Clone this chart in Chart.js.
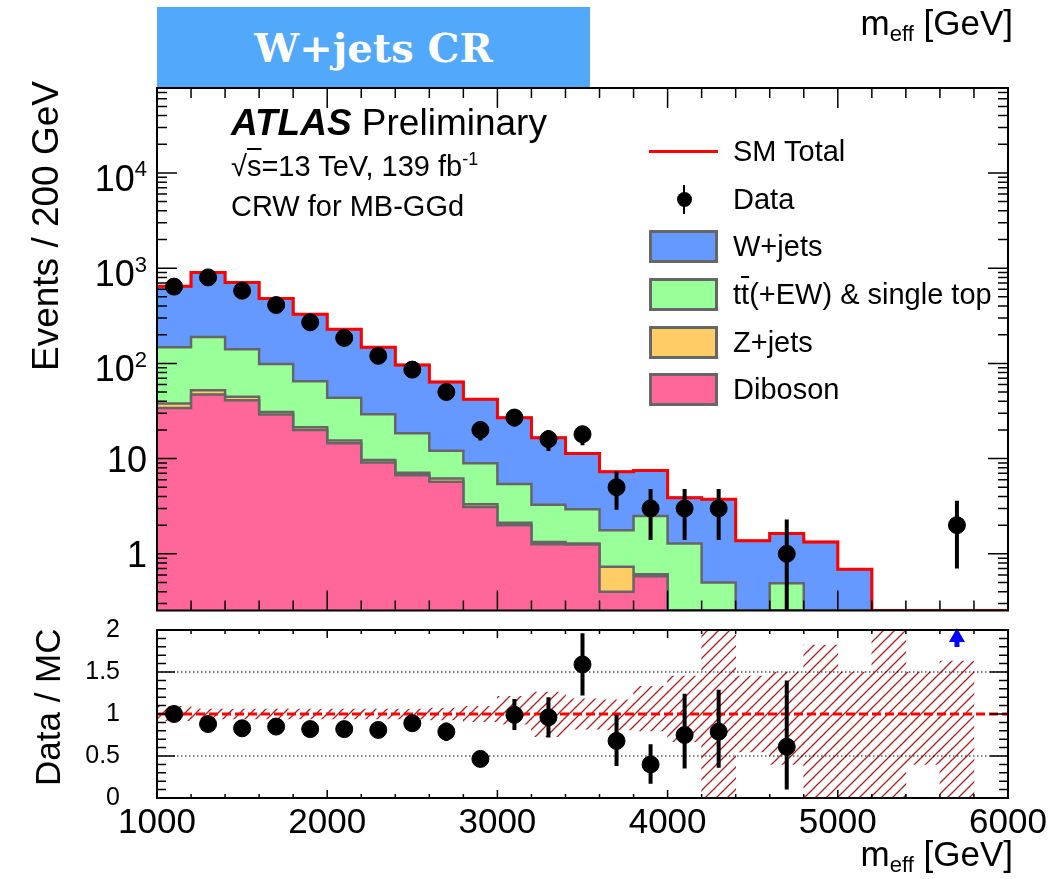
<!DOCTYPE html>
<html>
<head>
<meta charset="utf-8">
<script src="https://cdn.jsdelivr.net/npm/chart.js@4.4.1/dist/chart.umd.min.js"></script>
<style>
  html, body { margin: 0; padding: 0; background: #fff; }
  body { width: 1051px; height: 879px; position: relative; overflow: hidden;
         font-family: 'Liberation Sans', Arial, Helvetica, sans-serif; color: #000; }
  canvas { position: absolute; left: 0; }
  #main { top: 0; }
  #ratio { top: 590px; }
  .txt { position: absolute; white-space: nowrap; line-height: 1; z-index: 2; }
  .txt sub { font-size: 22px; vertical-align: -6px; line-height: 0; }
  .rot { transform-origin: 0 0; transform: rotate(-90deg); }
  #banner { position: absolute; left: 157px; top: 7px; width: 433px; height: 80px; background: #52a8fa;
            color: #fff; font-family: 'DejaVu Serif', serif; font-weight: bold; font-size: 40px;
            display: flex; align-items: center; justify-content: center; z-index: 2; }
  #legend { position: absolute; left: 649px; top: 128px; font-size: 29px; z-index: 2; }
  #legend .row { height: 47.6px; display: flex; align-items: center; }
  #legend .sym { width: 69px; height: 33px; position: relative; margin-right: 15px; box-sizing: border-box; }
  #legend .lab { line-height: 1; white-space: nowrap; }
</style>
</head>
<body>
<canvas id="main" width="1051" height="620"></canvas>
<canvas id="ratio" width="1051" height="289"></canvas>

<div id="banner">W+jets CR</div>
<div class="txt" style="right:38px; top:5px; font-size:35px">m<sub>eff</sub> [GeV]</div>
<div class="txt" style="right:38px; top:836px; font-size:35px">m<sub>eff</sub> [GeV]</div>
<div class="txt rot" style="left:27px; top:371px; font-size:37px">Events / 200 GeV</div>
<div class="txt rot" style="left:30px; top:786px; font-size:35px">Data / MC</div>
<div class="txt" style="left:231px; top:104px; font-size:37px"><b><i>ATLAS</i></b> Preliminary</div>
<div class="txt" style="left:231px; top:152px; font-size:29px">&radic;<span style="text-decoration:overline">s</span>=13 TeV, 139 fb<sup style="font-size:18px; vertical-align:11px; line-height:0">-1</sup></div>
<div class="txt" style="left:231px; top:192px; font-size:29px">CRW for MB-GGd</div>
<div id="legend"></div>

<script>
// bin edges of m_eff [GeV]
const binEdges = [1000, 1200, 1400, 1600, 1800, 2000, 2200, 2400, 2600, 2800, 3000, 3200, 3400,
  3600, 3800, 4000, 4200, 4400, 4600, 4800, 5000, 5200, 5400, 5600, 5800, 6000];

// background expectations per bin (events / 200 GeV)
const diboson = [34, 47, 41, 29, 20, 14.5, 9.1, 6.7, 5.7, 3.1, 2.0, 1.26, 1.25, 0.40, 0.58, 0, 0, 0, 0, 0, 0, 0, 0, 0, 0];
const zjets = [4.0, 5.3, 3.5, 1.9, 1.4, 1.0, 0.55, 0.4, 0.5, 0.22, 0.12, 0.07, 0.03, 0.33, 0.03, 0, 0, 0, 0, 0, 0, 0, 0, 0, 0];
const ttbar = [110, 137, 96, 67.5, 43.5, 28, 19.5, 11.4, 5.9, 5.6, 3.3, 1.94, 1.65, 1.04, 1.88, 1.28, 0.5, 0, 0.49, 0, 0, 0, 0, 0, 0];
const wjets = [499, 711, 567, 383, 263, 185, 119, 77.5, 51.5, 33, 21.5, 13.3, 8.4, 5.5, 5.0, 2.6, 3.25, 1.37, 1.14, 1.33, 0.69, 0, 0, 0, 0];

// observed data
const dataCounts = [640, 800, 580, 410, 270, 185, 120, 86, 50, 20, 27, 16, 18, 5, 3, 3, 3, 0, 1, 0, 0, 0, 0, 2, 0];
const dataErrUp = [25, 28, 24, 20, 16, 14, 11, 9.3, 7.1, 4.5, 5.2, 4, 4.2, 2.3, 1.8, 1.8, 1.8, 0, 1.3, 0, 0, 0, 0, 1.6, 0];
const dataErrDown = [25, 28, 24, 20, 16, 14, 11, 9.3, 7.1, 4.5, 5.2, 4, 4.2, 2.1, 1.6, 1.6, 1.6, 0, 1, 0, 0, 0, 0, 1.3, 0];

// ratio panel
const ratio = [1.0, 0.88, 0.83, 0.85, 0.82, 0.82, 0.81, 0.89, 0.79, 0.465, 0.99, 0.96, 1.59, 0.68, 0.40, 0.75, 0.79,
  null, 0.61, null, null, null, null, null, null];
const ratioErrUp = [0.04, 0.04, 0.04, 0.04, 0.04, 0.05, 0.05, 0.07, 0.11, 0.09, 0.19, 0.24, 0.37, 0.31, 0.24, 0.49, 0.5,
  0, 0.79, 0, 0, 0, 0, 0, 0];
const ratioErrDown = [0.04, 0.04, 0.04, 0.04, 0.04, 0.05, 0.05, 0.07, 0.11, 0.09, 0.18, 0.24, 0.37, 0.30, 0.23, 0.40, 0.43,
  0, 0.51, 0, 0, 0, 0, 0, 0];
const ratioOffScale = [5700];
const bandLow = [0.92, 0.94, 0.94, 0.94, 0.94, 0.94, 0.94, 0.94, 0.93, 0.91, 0.88, 0.73, 0.82, 0.81, 0.80, 0.67, 0,
  0.55, 0.40, 0, 0, 0, 0.40, 0, null];
const bandHigh = [1.09, 1.06, 1.06, 1.06, 1.06, 1.06, 1.06, 1.06, 1.07, 1.09, 1.21, 1.26, 1.18, 1.17, 1.33, 1.45, 2,
  1.45, 1.5, 1.82, 1.5, 2, 1.5, 1.63, null];

const yTickValues = [1, 10, 100, 1000, 10000];

const colWjets = '#6699ff', colTop = '#99ff99', colZ = '#ffcc66', colVV = '#ff6699', colLine = '#666666';
const fontFamily = "'Liberation Sans', Arial, Helvetica, sans-serif";
const yMin = 0.254, yMax = 78000;

Chart.defaults.font.family = fontFamily;
Chart.defaults.color = '#000';

const centers = binEdges.slice(0, -1).map((e, i) => (e + binEdges[i + 1]) / 2);

function cumulate(...parts) {
  return parts[0].map((_, i) => parts.reduce((s, p) => s + p[i], 0));
}
// empty bins sit on the bottom of the frame, like ROOT draws them
function steps(vals) {
  const pts = vals.map((v, i) => ({ x: binEdges[i], y: Math.max(v, yMin) }));
  pts.push({ x: binEdges[vals.length], y: Math.max(vals[vals.length - 1], yMin) });
  return pts;
}

const cumVV = cumulate(diboson);
const cumZ = cumulate(diboson, zjets);
const cumTop = cumulate(diboson, zjets, ttbar);
const cumAll = cumulate(diboson, zjets, ttbar, wjets);

// ROOT-like frame with inward ticks on all four sides
const rootAxes = {
  id: 'rootAxes',
  afterDraw(chart, args, o) {
    const { ctx, chartArea: a, scales: { x, y } } = chart;
    ctx.save();
    ctx.strokeStyle = '#000';
    ctx.lineWidth = 1.5;
    ctx.beginPath();
    const vt = (v, len) => {
      const p = x.getPixelForValue(v);
      ctx.moveTo(p, a.bottom); ctx.lineTo(p, a.bottom - len);
      ctx.moveTo(p, a.top); ctx.lineTo(p, a.top + len);
    };
    const ht = (v, len) => {
      const p = y.getPixelForValue(v);
      if (p < a.top - 0.5 || p > a.bottom + 0.5) return;
      ctx.moveTo(a.left, p); ctx.lineTo(a.left + len, p);
      ctx.moveTo(a.right, p); ctx.lineTo(a.right - len, p);
    };
    o.xMajor.forEach(v => vt(v, o.xMajorLen));
    o.xMinor.forEach(v => vt(v, o.xMinorLen));
    o.yMajor.forEach(v => ht(v, o.yMajorLen));
    o.yMinor.forEach(v => ht(v, o.yMinorLen));
    ctx.stroke();
    ctx.lineWidth = 2;
    ctx.strokeRect(a.left, a.top, a.right - a.left, a.bottom - a.top);
    ctx.restore();
  }
};

// log-axis labels written as 10 with a raised exponent
const logLabels = {
  id: 'logLabels',
  afterDraw(chart, args, o) {
    const { ctx, chartArea: a, scales: { y } } = chart;
    ctx.save();
    ctx.fillStyle = '#000';
    ctx.textAlign = 'right';
    ctx.textBaseline = 'alphabetic';
    const right = a.left - 10;
    o.values.forEach(v => {
      const p = y.getPixelForValue(v);
      const exp = Math.round(Math.log10(v));
      if (exp <= 1) {
        ctx.font = '36px ' + fontFamily;
        ctx.fillText(String(v), right, p + 13);
      } else {
        ctx.font = '22px ' + fontFamily;
        ctx.fillText(String(exp), right, p + 3.5);
        const w = ctx.measureText(String(exp)).width;
        ctx.font = '36px ' + fontFamily;
        ctx.fillText('10', right - w, p + 18);
      }
    });
    ctx.restore();
  }
};

// vertical error bars for datasets that carry errUp / errDown
const errorBars = {
  id: 'errorBars',
  afterDatasetsDraw(chart) {
    const { ctx, chartArea: a } = chart;
    chart.data.datasets.forEach((ds, i) => {
      if (!ds.errUp) return;
      const meta = chart.getDatasetMeta(i);
      const ys = chart.scales[meta.yAxisID];
      ctx.save();
      ctx.beginPath();
      ctx.rect(a.left, a.top, a.right - a.left, a.bottom - a.top);
      ctx.clip();
      ctx.strokeStyle = '#000';
      ctx.lineWidth = 4;
      ctx.beginPath();
      meta.data.forEach((pt, j) => {
        const v = ds.data[j].y;
        if (v == null) return;
        ctx.moveTo(pt.x, ys.getPixelForValue(v + ds.errUp[j]));
        ctx.lineTo(pt.x, ys.getPixelForValue(Math.max(v - ds.errDown[j], 0)));
      });
      ctx.stroke();
      ctx.restore();
    });
  }
};

// ratio points above the panel range
const offScale = {
  id: 'offScale',
  afterDatasetsDraw(chart, args, o) {
    const { ctx, chartArea: a, scales: { x } } = chart;
    ctx.save();
    ctx.fillStyle = '#0000ff';
    ctx.strokeStyle = '#0000ff';
    ctx.lineWidth = 5;
    o.xs.forEach(v => {
      const p = x.getPixelForValue(v);
      ctx.beginPath();
      ctx.moveTo(p, a.top - 2); ctx.lineTo(p - 8, a.top + 12); ctx.lineTo(p + 8, a.top + 12);
      ctx.closePath(); ctx.fill();
      ctx.beginPath(); ctx.moveTo(p, a.top + 10); ctx.lineTo(p, a.top + 17); ctx.stroke();
    });
    ctx.restore();
  }
};

const xMajor = [1000, 2000, 3000, 4000, 5000, 6000];
const xMinor = [];
for (let v = 1000; v <= 6000; v += 200) xMinor.push(v);
const logMajor = [0.1, 1, 10, 100, 1000, 10000];
const logMinor = [];
logMajor.forEach(d => { for (let k = 2; k <= 9; k++) logMinor.push(d * k); });

new Chart(document.getElementById('main'), {
  type: 'scatter',
  data: {
    datasets: [
      { type: 'scatter', data: centers.map((c, i) => ({ x: c, y: dataCounts[i] > 0 ? dataCounts[i] : null })),
        errUp: dataErrUp, errDown: dataErrDown,
        backgroundColor: '#000', borderColor: '#000', pointRadius: 8.5, pointHoverRadius: 8.5 },
      { type: 'line', label: 'SM Total', data: steps(cumAll), stepped: true, fill: false,
        borderColor: '#ff0000', borderWidth: 3, pointRadius: 0 },
      { type: 'line', label: 'Diboson', data: steps(cumVV), stepped: true, fill: 'start',
        backgroundColor: colVV, borderColor: colLine, borderWidth: 2.5, pointRadius: 0 },
      { type: 'line', label: 'Z+jets', data: steps(cumZ), stepped: true, fill: 'start',
        backgroundColor: colZ, borderColor: colLine, borderWidth: 2.5, pointRadius: 0 },
      { type: 'line', label: 'ttbar', data: steps(cumTop), stepped: true, fill: 'start',
        backgroundColor: colTop, borderColor: colLine, borderWidth: 2.5, pointRadius: 0 },
      { type: 'line', label: 'W+jets', data: steps(cumAll), stepped: true, fill: 'start',
        backgroundColor: colWjets, borderColor: colLine, borderWidth: 2.5, pointRadius: 0 }
    ]
  },
  options: {
    responsive: false,
    animation: false,
    layout: { padding: { top: 88, right: 43, bottom: 6, left: 0 } },
    plugins: {
      legend: { display: false },
      tooltip: { enabled: false },
      rootAxes: { xMajor, xMinor, xMajorLen: 20, xMinorLen: 10,
                  yMajor: logMajor, yMinor: logMinor, yMajorLen: 20, yMinorLen: 10 },
      logLabels: { values: yTickValues }
    },
    scales: {
      x: { type: 'linear', min: 1000, max: 6000, display: false },
      y: {
        type: 'logarithmic', min: yMin, max: yMax,
        grid: { display: false, drawTicks: false },
        border: { display: false },
        afterFit: s => { s.width = 157; s.paddingTop = 0; s.paddingBottom = 0; },
        ticks: { display: false }
      }
    }
  },
  plugins: [rootAxes, logLabels, errorBars]
});

// ratio panel
const ratioCanvas = document.getElementById('ratio');
const tile = document.createElement('canvas');
tile.width = 11; tile.height = 11;
const tg = tile.getContext('2d');
tg.strokeStyle = '#b01e1e';
tg.lineWidth = 1.3;
tg.beginPath();
tg.moveTo(0, 11); tg.lineTo(11, 0);
tg.moveTo(-5.5, 5.5); tg.lineTo(5.5, -5.5);
tg.moveTo(5.5, 16.5); tg.lineTo(16.5, 5.5);
tg.stroke();
const hatch = ratioCanvas.getContext('2d').createPattern(tile, 'repeat');

const ratioMinor = [];
for (let v = 0; v <= 2.001; v += 0.1) ratioMinor.push(Math.round(v * 10) / 10);

new Chart(ratioCanvas, {
  type: 'scatter',
  data: {
    datasets: [
      { type: 'scatter', data: centers.map((c, i) => ({ x: c, y: ratio[i] })),
        errUp: ratioErrUp, errDown: ratioErrDown,
        backgroundColor: '#000', borderColor: '#000', pointRadius: 8.5, pointHoverRadius: 8.5 },
      { type: 'line', data: [{ x: 1000, y: 1 }, { x: 6000, y: 1 }], borderColor: '#ff0000',
        borderWidth: 3, borderDash: [9, 4], pointRadius: 0, fill: false },
      { type: 'line', data: [{ x: 1000, y: 1.5 }, { x: 6000, y: 1.5 }], borderColor: '#000',
        borderWidth: 1.2, borderDash: [1.5, 2.5], pointRadius: 0, fill: false },
      { type: 'line', data: [{ x: 1000, y: 0.5 }, { x: 6000, y: 0.5 }], borderColor: '#000',
        borderWidth: 1.2, borderDash: [1.5, 2.5], pointRadius: 0, fill: false },
      { type: 'bar', data: centers.map((c, i) => ({ x: c, y: bandLow[i] == null ? null : [bandLow[i], bandHigh[i]] })),
        backgroundColor: hatch, borderWidth: 0, barPercentage: 1, categoryPercentage: 1, grouped: false }
    ]
  },
  options: {
    responsive: false,
    animation: false,
    layout: { padding: { top: 40, right: 43, bottom: 0, left: 0 } },
    plugins: {
      legend: { display: false },
      tooltip: { enabled: false },
      rootAxes: { xMajor, xMinor, xMajorLen: 8, xMinorLen: 4,
                  yMajor: [0, 0.5, 1, 1.5, 2], yMinor: ratioMinor, yMajorLen: 18, yMinorLen: 9 },
      offScale: { xs: ratioOffScale }
    },
    scales: {
      x: {
        type: 'linear', min: 1000, max: 6000, offset: false,
        grid: { display: false, drawTicks: false },
        border: { display: false },
        afterFit: s => { s.height = 81; s.paddingLeft = 0; s.paddingRight = 0; },
        ticks: { stepSize: 1000, font: { size: 35 }, padding: 4, maxRotation: 0, autoSkip: false,
                 callback: v => String(v) }
      },
      y: {
        type: 'linear', min: 0, max: 2,
        grid: { display: false, drawTicks: false },
        border: { display: false },
        afterFit: s => { s.width = 157; s.paddingTop = 0; s.paddingBottom = 0; },
        ticks: { stepSize: 0.5, font: { size: 25 }, padding: 37, autoSkip: false,
                 callback: v => String(Math.round(v * 10) / 10) }
      }
    }
  },
  plugins: [rootAxes, errorBars, offScale]
});

// legend
const legendRows = [
  { label: 'SM Total', kind: 'line' },
  { label: 'Data', kind: 'data' },
  { label: 'W+jets', kind: 'box', color: colWjets },
  { label: 't<span style="text-decoration:overline">t</span>(+EW) &amp; single top', kind: 'box', color: colTop },
  { label: 'Z+jets', kind: 'box', color: colZ },
  { label: 'Diboson', kind: 'box', color: colVV }
];
const legend = document.getElementById('legend');
legendRows.forEach(r => {
  const row = document.createElement('div');
  row.className = 'row';
  let sym;
  if (r.kind === 'line') {
    sym = '<div class="sym"><div style="position:absolute;left:0;top:15px;width:69px;height:3px;background:#ff0000"></div></div>';
  } else if (r.kind === 'data') {
    sym = '<div class="sym"><div style="position:absolute;left:34px;top:2px;width:2px;height:29px;background:#000"></div>' +
          '<div style="position:absolute;left:27.5px;top:9px;width:15px;height:15px;border-radius:50%;background:#000"></div></div>';
  } else {
    sym = '<div class="sym" style="border:3px solid ' + colLine + ';background:' + r.color + '"></div>';
  }
  row.innerHTML = sym + '<span class="lab">' + r.label + '</span>';
  legend.appendChild(row);
});
</script>
</body>
</html>
